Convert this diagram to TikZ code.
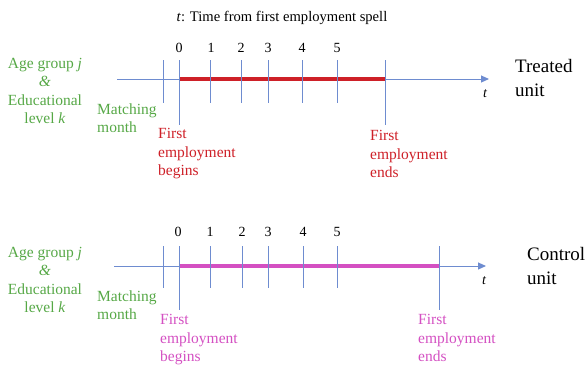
\documentclass[tikz,border=0pt]{standalone}
\usepackage{fontspec}
\setmainfont{Liberation Serif}
\usetikzlibrary{arrows.meta}
\definecolor{lblgreen}{RGB}{86,168,70}
\definecolor{spanred}{RGB}{206,32,40}
\definecolor{spanmag}{RGB}{212,80,194}
\definecolor{axisblue}{RGB}{110,140,208}
\tikzset{
  axisline/.style={draw=axisblue,line width=1pt,-{Triangle[length=8pt,width=7pt]}},
  tickline/.style={draw=axisblue,line width=0.9pt},
  spanbar/.style={line width=4pt},
  numlbl/.style={inner sep=0pt,font=\fontsize{14}{16}\selectfont},
  grplbl/.style={inner sep=0pt,text=lblgreen,align=center,font=\fontsize{15.5}{18.3}\selectfont},
  mmlbl/.style={inner sep=0pt,text=lblgreen,align=left,anchor=west,font=\fontsize{15.5}{18.3}\selectfont},
  evlbl/.style={inner sep=0pt,align=left,anchor=west,font=\fontsize{15.5}{18.5}\selectfont},
  unitlbl/.style={inner sep=0pt,align=left,anchor=west,font=\fontsize{19}{23.5}\selectfont},
  tlbl/.style={inner sep=0pt,font=\itshape\fontsize{14}{16}\selectfont}
}
\begin{document}
\begin{tikzpicture}[x=1pt,y=-1pt]
\useasboundingbox (0,0) rectangle (587,365);
% title
\node[inner sep=0pt,font=\fontsize{14.6}{17}\selectfont] (title) at (282,18) {\textit{t}: Time from first employment spell};

% ---------- Treated unit ----------
\coordinate (ta0) at (117,79);
\coordinate (ta1) at (489,79);
\draw[axisline] (ta0) -- (ta1);
\coordinate (tb0) at (179,79);
\coordinate (tb1) at (385,79);
\draw[spanbar,spanred] (tb0) -- (tb1);
\foreach \n/\x in {m/163,1/210,2/241,3/268,4/302,5/337}{
  \coordinate (tt\n a) at (\x,60); \coordinate (tt\n b) at (\x,103);
  \draw[tickline] (tt\n a) -- (tt\n b);
}
\foreach \n/\x in {0/179,e/385}{
  \coordinate (tt\n a) at (\x,60); \coordinate (tt\n b) at (\x,125);
  \draw[tickline] (tt\n a) -- (tt\n b);
}
\foreach \n/\x in {0/179,1/211,2/241,3/268,4/302,5/337}{
  \node[numlbl] (tn\n) at (\x,48) {\n};
}
\node[tlbl] (tt) at (485,94) {t};
\node[grplbl] (tgrp) at (45,91) {Age group \textit{j}\\ \textit{\&}\\ Educational\\ level \textit{k}};
\node[mmlbl] (tmm) at (97,118) {Matching\\ month};
\node[evlbl,text=spanred] (tbeg) at (158,154) {First\\ employment\\ begins};
\node[evlbl,text=spanred] (tend) at (370,154) {First\\ employment\\ ends};
\node[unitlbl] (tunit) at (515,78) {Treated\\ unit};

% ---------- Control unit ----------
\coordinate (ca0) at (114,266);
\coordinate (ca1) at (486,266);
\draw[axisline] (ca0) -- (ca1);
\coordinate (cb0) at (179,266);
\coordinate (cb1) at (439,266);
\draw[spanbar,spanmag] (cb0) -- (cb1);
\foreach \n/\x in {m/163,1/210,2/242,3/268,4/303,5/337}{
  \coordinate (ct\n a) at (\x,246); \coordinate (ct\n b) at (\x,288);
  \draw[tickline] (ct\n a) -- (ct\n b);
}
\foreach \n/\x in {0/179,e/439}{
  \coordinate (ct\n a) at (\x,246); \coordinate (ct\n b) at (\x,310);
  \draw[tickline] (ct\n a) -- (ct\n b);
}
\foreach \n/\x in {0/178,1/210,2/242,3/268,4/303,5/337}{
  \node[numlbl] (cn\n) at (\x,232) {\n};
}
\node[tlbl] (ctl) at (484,281) {t};
\node[grplbl] (cgrp) at (45,280) {Age group \textit{j}\\ \textit{\&}\\ Educational\\ level \textit{k}};
\node[mmlbl] (cmm) at (97,305) {Matching\\ month};
\node[evlbl,text=spanmag] (cbeg) at (160,340) {First\\ employment\\ begins};
\node[evlbl,text=spanmag] (cend) at (418,338) {First\\ employment\\ ends};
\node[unitlbl] (cunit) at (527,266) {Control\\ unit};
\end{tikzpicture}
\end{document}
